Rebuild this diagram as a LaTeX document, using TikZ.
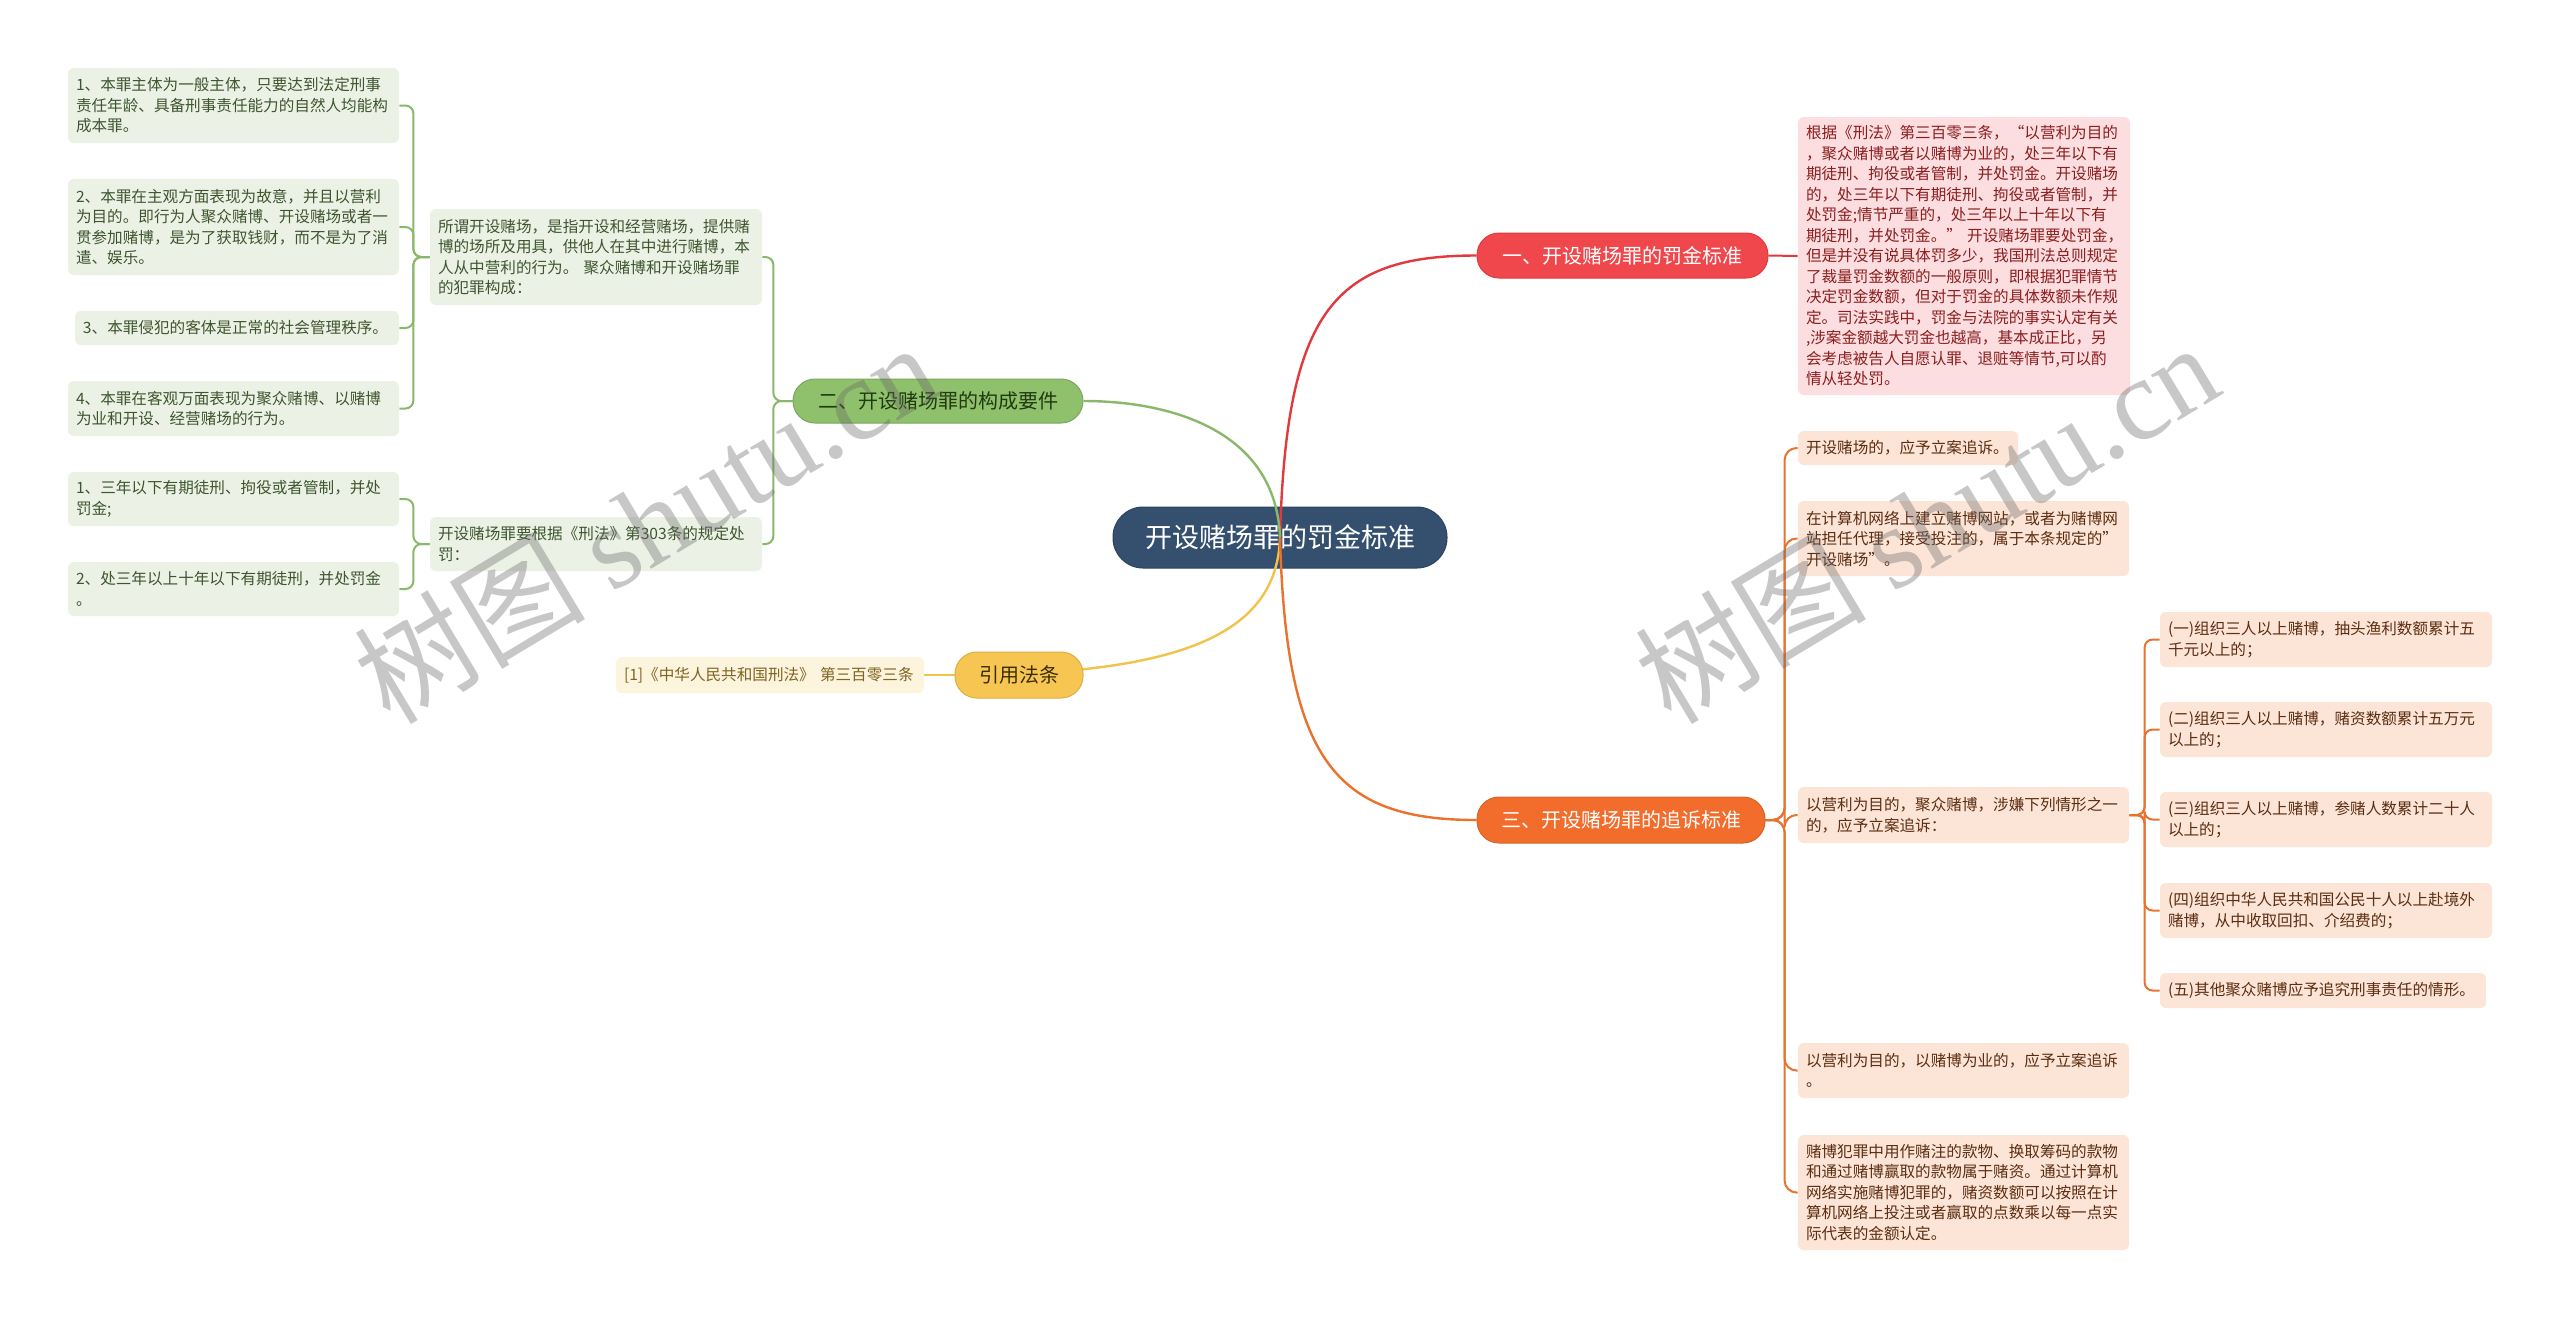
\documentclass[tikz,border=0pt]{standalone}
\usepackage{fontspec}
\setmainfont{Noto Sans CJK SC}
\newfontfamily\wmfont{Liberation Serif}
\pgfdeclarelayer{bgl}
\pgfdeclarelayer{edges}
\pgfsetlayers{bgl,edges,main}
\definecolor{cbg}{HTML}{34506E}
\definecolor{rnode}{HTML}{EF474C}
\definecolor{rline}{HTML}{E03A3E}
\definecolor{rbg}{HTML}{FCDDE0}
\definecolor{rtx}{HTML}{8A1F1F}
\definecolor{gnode}{HTML}{8FC06B}
\definecolor{gline}{HTML}{8AB86A}
\definecolor{gbg}{HTML}{EBF2E5}
\definecolor{gtx}{HTML}{3E5530}
\definecolor{gntx}{HTML}{213A10}
\definecolor{ynode}{HTML}{F7C552}
\definecolor{yline}{HTML}{F2C34A}
\definecolor{ybg}{HTML}{FDF4DE}
\definecolor{ytx}{HTML}{806420}
\definecolor{yntx}{HTML}{3B2E05}
\definecolor{onode}{HTML}{F26C2C}
\definecolor{oline}{HTML}{E8722E}
\definecolor{obg}{HTML}{FCE4D7}
\definecolor{otx}{HTML}{5C2E12}
\tikzset{
  txt/.style={font=\fontsize{7.8}{10.25}\selectfont, align=left, rounded corners=3pt, inner xsep=4pt, inner ysep=0pt},
  gbox/.style={txt, fill=gbg, text=gtx},
  rbox/.style={txt, fill=rbg, text=rtx},
  obox/.style={txt, fill=obg, text=otx},
  ybox/.style={txt, fill=ybg, text=ytx},
  topic/.style={rounded corners=11pt, inner sep=0pt, font=\fontsize{10}{12}\selectfont},
  mainline/.style={line width=1.2pt},
  brk/.style={line width=1pt, rounded corners=4pt},
  wm/.style={rotate=31, text=black!60, text opacity=0.36, font=\fontsize{58}{64}\selectfont}
}
\begin{document}
\begin{tikzpicture}[x=0.5pt,y=-0.5pt]
\useasboundingbox (0,0) rectangle (2560,1319);

% background and central topic (lines are drawn over it)
\begin{pgfonlayer}{bgl}
\fill[white] (0,0) rectangle (2560,1319);
\node[rounded corners=15pt, fill=cbg, draw=cbg!85!black, line width=0.5pt, text=white, minimum width=167pt, minimum height=30.5pt, inner sep=0pt, font=\fontsize{13.5}{16}\selectfont] (C) at (1280,537.5) {开设赌场罪的罚金标准};
\end{pgfonlayer}

% main topics
\node[topic, fill=rnode, draw=rline, line width=0.5pt, text=white, minimum width=145.5pt, minimum height=22.5pt] (R) at (1622.5,255.5) {一、开设赌场罪的罚金标准};
\node[topic, fill=gnode, draw=gline!90!black, line width=0.5pt, text=gntx, minimum width=145pt, minimum height=22pt] (G) at (938,401) {二、开设赌场罪的构成要件};
\node[topic, fill=ynode, draw=yline!90!black, line width=0.5pt, text=yntx, minimum width=64pt, minimum height=23pt] (Y) at (1019,675) {引用法条};
\node[topic, fill=onode, draw=oline!90!black, line width=0.5pt, text=white, minimum width=144pt, minimum height=23pt] (O) at (1621,820) {三、开设赌场罪的追诉标准};

% red detail
\node[rbox, minimum width=166pt, text width=158pt, minimum height=139pt] (r1) at (1964,256) {根据《刑法》第三百零三条，“以营利为目的\\，聚众赌博或者以赌博为业的，处三年以下有\\期徒刑、拘役或者管制，并处罚金。开设赌场\\的，处三年以下有期徒刑、拘役或者管制，并\\处罚金;情节严重的，处三年以上十年以下有\\\mbox{期徒刑，并处罚金。” 开设赌场罪要处罚金，}\\但是并没有说具体罚多少，我国刑法总则规定\\了裁量罚金数额的一般原则，即根据犯罪情节\\决定罚金数额，但对于罚金的具体数额未作规\\定。司法实践中，罚金与法院的事实认定有关\\,涉案金额越大罚金也越高，基本成正比，另\\会考虑被告人自愿认罪、退赃等情节,可以酌\\情从轻处罚。};

% green children
\node[gbox, minimum width=166pt, text width=158pt, minimum height=48pt] (ga) at (596,257) {所谓开设赌场，是指开设和经营赌场，提供赌\\博的场所及用具，供他人在其中进行赌博，本\\\mbox{人从中营利的行为。 聚众赌博和开设赌场罪}\\的犯罪构成：};
\node[gbox, minimum width=166pt, text width=158pt, minimum height=27pt] (gb) at (596,544) {开设赌场罪要根据《刑法》第303条的规定处\\罚：};

\node[gbox, minimum width=165.5pt, text width=157.5pt, minimum height=37.5pt] (g1) at (233.5,105.5) {1、本罪主体为一般主体，只要达到法定刑事\\责任年龄、具备刑事责任能力的自然人均能构\\成本罪。};
\node[gbox, minimum width=165.5pt, text width=157.5pt, minimum height=48pt] (g2) at (233.5,227) {2、本罪在主观方面表现为故意，并且以营利\\为目的。即行为人聚众赌博、开设赌场或者一\\贯参加赌博，是为了获取钱财，而不是为了消\\遣、娱乐。};
\node[gbox, minimum width=162pt, text width=154pt, minimum height=17pt] (g3) at (237,328) {3、本罪侵犯的客体是正常的社会管理秩序。};
\node[gbox, minimum width=165.5pt, text width=157.5pt, minimum height=27.5pt] (g4) at (233.5,408.5) {4、本罪在客观万面表现为聚众赌博、以赌博\\为业和开设、经营赌场的行为。};
\node[gbox, minimum width=165.5pt, text width=157.5pt, minimum height=27pt] (g5) at (233.5,499) {1、三年以下有期徒刑、拘役或者管制，并处\\罚金;};
\node[gbox, minimum width=165.5pt, text width=157.5pt, minimum height=27pt] (g6) at (233.5,589) {2、处三年以上十年以下有期徒刑，并处罚金\\。};

% yellow child
\node[ybox, minimum width=154pt, text width=146pt, minimum height=18pt] (y1) at (770,675) {[1]《中华人民共和国刑法》 第三百零三条};

% orange children
\node[obox, minimum width=110pt, text width=102pt, minimum height=17pt] (o1) at (1908,448) {开设赌场的，应予立案追诉。};
\node[obox, minimum width=165.5pt, text width=157.5pt, minimum height=37.5pt] (o2) at (1963.5,538.5) {在计算机网络上建立赌博网站，或者为赌博网\\站担任代理，接受投注的，属于本条规定的"\\开设赌场"。};
\node[obox, minimum width=165.5pt, text width=157.5pt, minimum height=28pt] (o3) at (1963.5,815) {以营利为目的，聚众赌博，涉嫌下列情形之一\\的，应予立案追诉：};
\node[obox, minimum width=165.5pt, text width=157.5pt, minimum height=27.5pt] (o4) at (1963.5,1070.5) {以营利为目的，以赌博为业的，应予立案追诉\\。};
\node[obox, minimum width=165.5pt, text width=157.5pt, minimum height=57.5pt] (o5) at (1963.5,1192.5) {赌博犯罪中用作赌注的款物、换取筹码的款物\\和通过赌博赢取的款物属于赌资。通过计算机\\网络实施赌博犯罪的，赌资数额可以按照在计\\算机网络上投注或者赢取的点数乘以每一点实\\际代表的金额认定。};

\node[obox, minimum width=166pt, text width=158pt, minimum height=27.5pt] (s1) at (2326,639.5) {(一)组织三人以上赌博，抽头渔利数额累计五\\千元以上的；};
\node[obox, minimum width=166pt, text width=158pt, minimum height=27.5pt] (s2) at (2326,729.5) {(二)组织三人以上赌博，赌资数额累计五万元\\以上的；};
\node[obox, minimum width=166pt, text width=158pt, minimum height=27.5pt] (s3) at (2326,819.5) {(三)组织三人以上赌博，参赌人数累计二十人\\以上的；};
\node[obox, minimum width=166pt, text width=158pt, minimum height=27.5pt] (s4) at (2326,910.5) {(四)组织中华人民共和国公民十人以上赴境外\\赌博，从中收取回扣、介绍费的；};
\node[obox, minimum width=163pt, text width=155pt, minimum height=17.5pt] (s5) at (2323,990.5) {(五)其他聚众赌博应予追究刑事责任的情形。};

% connectors
\begin{pgfonlayer}{edges}
\draw[mainline, rline] (C.center) .. controls (1286,310) and (1335,255.5) .. (R.west);
\draw[mainline, gline] (C.center) .. controls (1276,430) and (1170,401) .. (G.east);
\draw[mainline, yline] (C.center) .. controls (1277,635) and (1180,675) .. (Y.west);
\draw[mainline, oline] (C.center) .. controls (1286,760) and (1335,820) .. (O.west);

\draw[brk, rline] (R.east) -- (r1.west);
\draw[brk, yline] (Y.west) -- (y1.east);

\foreach \c in {ga,gb} \draw[brk, gline] (G.west) -| ([xshift=5.5pt]\c.east) -- (\c.east);
\foreach \c in {g1,g2,g3,g4} \draw[brk, gline] (ga.west) -| ([xshift=7pt]\c.east) -- (\c.east);
\foreach \c in {g5,g6} \draw[brk, gline] (gb.west) -| ([xshift=7pt]\c.east) -- (\c.east);

\foreach \c in {o1,o2,o3,o4,o5} \draw[brk, oline, rounded corners=6pt] (O.east) -| ([xshift=-6.5pt]\c.west) -- (\c.west);
\foreach \c in {s1,s2,s3,s4,s5} \draw[brk, oline] (o3.east) -| ([xshift=-7.5pt]\c.west) -- (\c.west);
\end{pgfonlayer}

% watermarks
\node[wm] (wm1) at (645,522) {树图 {\wmfont shutu.cn}};
\node[wm] (wm2) at (1926,522) {树图 {\wmfont shutu.cn}};
\end{tikzpicture}
\end{document}
